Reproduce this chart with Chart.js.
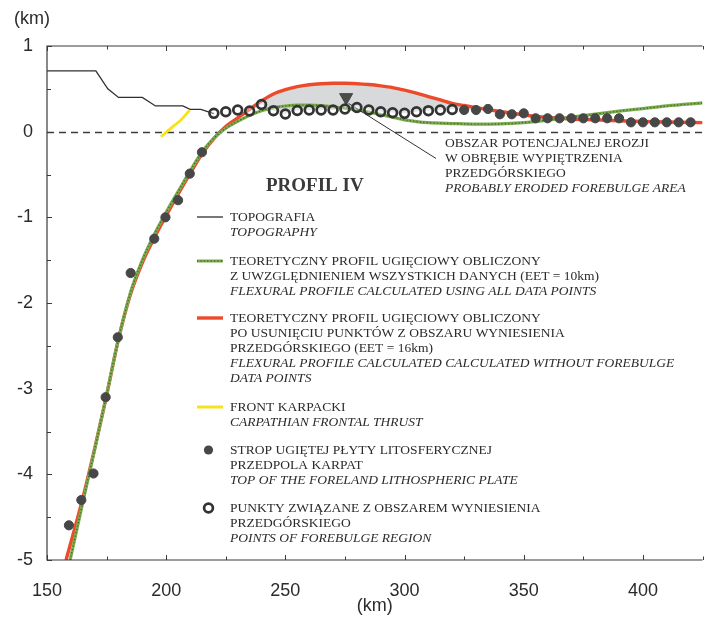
<!DOCTYPE html>
<html><head><meta charset="utf-8">
<script src="https://cdn.jsdelivr.net/npm/chart.js@4.4.1/dist/chart.umd.min.js"></script>
<style>html,body{margin:0;padding:0;background:#fff;}#wrap{width:711px;height:617px;}</style>
</head><body><div id="wrap"><canvas id="c" width="711" height="617"></canvas></div>
<script>
// ---------------- DATA ----------------
const xTicks = [150, 200, 250, 300, 350, 400];
const yTicks = [-5, -4, -3, -2, -1, 0, 1];

const topoX = [150, 170.5, 175.5, 180, 190, 195.5, 207, 210, 214.5, 220];
const topoY = [0.71, 0.71, 0.5, 0.4, 0.4, 0.3, 0.3, 0.26, 0.26, 0.21];

const frontX = [197.8, 202.3, 206.2, 209.9];
const frontY = [-0.06, 0.047, 0.136, 0.253];

const eet16X = [158, 165, 170, 175, 180, 185, 190, 195, 200, 205, 210, 215, 220, 225, 230, 235, 240, 245, 250, 255, 260, 265, 270, 275, 280, 285, 290, 295, 300, 305, 310, 315, 320, 325, 330, 340, 350, 360, 370, 380, 390, 400, 410, 425];
const eet16Y = [-5.0, -4.28, -3.7, -3.08, -2.42, -1.9, -1.53, -1.24, -0.98, -0.73, -0.49, -0.26, -0.08, 0.06, 0.16, 0.26, 0.36, 0.44, 0.49, 0.525, 0.548, 0.56, 0.565, 0.565, 0.56, 0.55, 0.535, 0.515, 0.485, 0.45, 0.41, 0.37, 0.33, 0.305, 0.28, 0.235, 0.195, 0.165, 0.148, 0.138, 0.127, 0.118, 0.112, 0.105];

const eet10X = [159.7, 165, 170, 175, 180, 185, 190, 195, 200, 205, 210, 215, 220, 225, 230, 235, 240, 245, 250, 255, 260, 265, 270, 275, 280, 285, 290, 295, 300, 305, 310, 320, 330, 340, 350, 360, 370, 380, 390, 400, 410, 425];
const eet10Y = [-5.0, -4.33, -3.71, -3.07, -2.42, -1.88, -1.5, -1.2, -0.94, -0.7, -0.46, -0.24, -0.075, 0.04, 0.12, 0.19, 0.245, 0.28, 0.3, 0.31, 0.31, 0.305, 0.29, 0.275, 0.255, 0.23, 0.2, 0.17, 0.138, 0.118, 0.105, 0.095, 0.088, 0.09, 0.105, 0.135, 0.17, 0.205, 0.24, 0.27, 0.3, 0.335];

const plateX = [159.2, 164.4, 169.5, 174.6, 179.7, 185.1, 195, 199.7, 205, 209.9, 215, 325, 330, 335, 340, 345, 350, 355, 360, 365, 370, 375, 380, 385, 390, 395, 400, 405, 410, 415, 420];
const plateY = [-4.595, -4.3, -3.99, -3.1, -2.4, -1.65, -1.25, -1.0, -0.8, -0.49, -0.24, 0.253, 0.253, 0.265, 0.203, 0.203, 0.214, 0.156, 0.156, 0.156, 0.156, 0.156, 0.156, 0.156, 0.156, 0.109, 0.109, 0.109, 0.109, 0.109, 0.109];

const bulgeX = [220, 225, 230, 235, 240, 245, 250, 255, 260, 265, 270, 275, 280, 285, 290, 295, 300, 305, 310, 315, 320];
const bulgeY = [0.214, 0.233, 0.253, 0.241, 0.317, 0.245, 0.206, 0.247, 0.253, 0.253, 0.253, 0.265, 0.282, 0.253, 0.233, 0.221, 0.214, 0.233, 0.245, 0.253, 0.259];

const markX = [275.5];
const markY = [0.4];
const leaderX = [276.5, 313.2];
const leaderY = [0.33, -0.313];

const annotationLines = [
  ['OBSZAR POTENCJALNEJ EROZJI', false],
  ['W OBRĘBIE WYPIĘTRZENIA', false],
  ['PRZEDGÓRSKIEGO', false],
  ['PROBABLY ERODED FOREBULGE AREA', true]
];

const legendGroups = [
  {sym: 'topo', lines: [['TOPOGRAFIA', false], ['TOPOGRAPHY', true]]},
  {sym: 'green', lines: [['TEORETYCZNY PROFIL UGIĘCIOWY OBLICZONY', false], ['Z UWZGLĘDNIENIEM WSZYSTKICH DANYCH (EET = 10km)', false], ['FLEXURAL PROFILE CALCULATED USING ALL DATA POINTS', true]]},
  {sym: 'red', lines: [['TEORETYCZNY PROFIL UGIĘCIOWY OBLICZONY', false], ['PO USUNIĘCIU PUNKTÓW Z OBSZARU WYNIESIENIA', false], ['PRZEDGÓRSKIEGO (EET = 16km)', false], ['FLEXURAL PROFILE CALCULATED CALCULATED WITHOUT FOREBULGE', true], ['DATA POINTS', true]]},
  {sym: 'yellow', lines: [['FRONT KARPACKI', false], ['CARPATHIAN FRONTAL THRUST', true]]},
  {sym: 'dot', lines: [['STROP UGIĘTEJ PŁYTY LITOSFERYCZNEJ', false], ['PRZEDPOLA KARPAT', false], ['TOP OF THE FORELAND LITHOSPHERIC PLATE', true]]},
  {sym: 'circle', lines: [['PUNKTY ZWIĄZANE Z OBSZAREM WYNIESIENIA', false], ['PRZEDGÓRSKIEGO', false], ['POINTS OF FOREBULGE REGION', true]]}
];

// ---------------- STYLE ----------------
const C = {
  axis: '#3a3a3a', text: '#2b2b2b', topo: '#2f2f2f', red: '#ec4a2b', green: '#7eab4f', greenDark: '#3c6a2b',
  yellow: '#f7e21b', dot: '#474747', ring: '#333333', fill: '#d7d9db'
};
const SERIF = '"Liberation Serif", "Times New Roman", serif';
const SANS = '"Liberation Sans", Arial, sans-serif';

const pts = (xs, ys) => xs.map((x, i) => ({x: x, y: ys[i]}));
const allPts = pts(bulgeX, bulgeY).concat(pts(plateX, plateY));
const erosionBase = allPts.filter(p => p.x >= 220 && p.x <= 330).sort((a, b) => a.x - b.x);

const lineDs = (label, data, color, width, extra) => Object.assign({
  label, data, borderColor: color, borderWidth: width, pointRadius: 0, pointHoverRadius: 0,
  fill: false, tension: 0, showLine: true
}, extra || {});

const datasets = [
  {label: 'bulge', data: pts(bulgeX, bulgeY), showLine: false, pointRadius: 4.4, pointBorderWidth: 2.7,
   pointBorderColor: C.ring, pointBackgroundColor: 'rgba(255,255,255,0.35)', borderColor: C.ring},
  {label: 'plate', data: pts(plateX, plateY), showLine: false, pointRadius: 4.6, pointBorderWidth: 1,
   pointBorderColor: C.dot, pointBackgroundColor: C.dot, borderColor: C.dot},
  {label: 'mark', data: pts(markX, markY), showLine: false, pointStyle: 'triangle', rotation: 180,
   pointRadius: 7.5, pointBorderWidth: 1, pointBorderColor: '#444', pointBackgroundColor: '#4c4c4c'},
  lineDs('leader', pts(leaderX, leaderY), '#333', 1),
  lineDs('eet10dots', pts(eet10X, eet10Y), C.greenDark, 1.4, {cubicInterpolationMode: 'monotone', borderDash: [1.2, 2.2]}),
  lineDs('eet10', pts(eet10X, eet10Y), C.green, 3.2, {cubicInterpolationMode: 'monotone'}),
  lineDs('eet16', pts(eet16X, eet16Y), C.red, 3.4, {cubicInterpolationMode: 'monotone',
    fill: {target: 9, above: C.fill, below: 'rgba(0,0,0,0)'}}),
  lineDs('front', pts(frontX, frontY), C.yellow, 2.8, {cubicInterpolationMode: 'monotone'}),
  lineDs('topo', pts(topoX, topoY), C.topo, 1.3),
  lineDs('erosionBase', erosionBase, 'rgba(0,0,0,0)', 0)
];

// ---------------- PLUGINS ----------------
const framePlugin = {
  id: 'frame',
  beforeDatasetsDraw(chart) {
    const {ctx, chartArea: a, scales: {y}} = chart;
    ctx.save();
    ctx.strokeStyle = '#3c3c3c'; ctx.lineWidth = 1.3; ctx.setLineDash([7, 5]);
    const y0 = Math.round(y.getPixelForValue(0)) + 0.5;
    ctx.beginPath(); ctx.moveTo(a.left, y0); ctx.lineTo(a.right, y0); ctx.stroke();
    ctx.restore();
  },
  afterDatasetsDraw(chart) {
    const {ctx, chartArea: a, scales: {x, y}} = chart;
    ctx.save();
    ctx.strokeStyle = C.axis; ctx.lineWidth = 1.2; ctx.setLineDash([]);
    ctx.beginPath();
    ctx.moveTo(a.right, a.top); ctx.lineTo(a.left, a.top); ctx.lineTo(a.left, a.bottom); ctx.lineTo(a.right, a.bottom);
    ctx.stroke();
    ctx.lineWidth = 1;
    ctx.beginPath();
    for (let v = x.min; v <= x.max + 1e-9; v += 25) {
      const px = Math.round(x.getPixelForValue(v)) + 0.5;
      const len = (v % 50 === 0) ? 5 : 3.5;
      ctx.moveTo(px, a.bottom); ctx.lineTo(px, a.bottom - len);
      ctx.moveTo(px, a.top); ctx.lineTo(px, a.top + len);
    }
    for (let v = y.min; v <= y.max + 1e-9; v += 0.5) {
      const py = Math.round(y.getPixelForValue(v)) + 0.5;
      const len = (Math.abs(v % 1) < 1e-9) ? 5 : 4;
      ctx.moveTo(a.left, py); ctx.lineTo(a.left + len, py);
    }
    ctx.stroke();
    ctx.restore();
  },
  afterDraw(chart) {
    const {ctx} = chart;
    ctx.save();
    ctx.fillStyle = C.text; ctx.font = '18px ' + SANS; ctx.textAlign = 'center'; ctx.textBaseline = 'middle';
    ctx.fillText('(km)', 32, 19);
    ctx.textAlign = 'left';
    ctx.font = 'bold 19px ' + SERIF; ctx.fillStyle = '#3a3a3a';
    ctx.fillText('PROFIL IV', 266, 186);
    annotationLines.forEach((l, i) => {
      ctx.font = (l[1] ? 'italic ' : '') + '13.5px ' + SERIF; ctx.fillStyle = C.text;
      ctx.fillText(l[0], 445, 143 + i * 15);
    });
    const starts = [217, 261, 318, 407, 450, 508];
    legendGroups.forEach((g, gi) => {
      const y0 = starts[gi];
      g.lines.forEach((l, i) => {
        ctx.font = (l[1] ? 'italic ' : '') + '13.5px ' + SERIF; ctx.fillStyle = C.text;
        ctx.fillText(l[0], 230, y0 + i * 15);
      });
      ctx.save();
      ctx.setLineDash([]);
      const sx0 = 197, sx1 = 223, cx = 208.5;
      if (g.sym === 'topo') { ctx.strokeStyle = C.topo; ctx.lineWidth = 1.3; ctx.beginPath(); ctx.moveTo(sx0, y0); ctx.lineTo(sx1, y0); ctx.stroke(); }
      if (g.sym === 'green') {
        ctx.strokeStyle = C.green; ctx.lineWidth = 3; ctx.beginPath(); ctx.moveTo(sx0, y0); ctx.lineTo(sx1, y0); ctx.stroke();
        ctx.strokeStyle = C.greenDark; ctx.lineWidth = 1.4; ctx.setLineDash([1.2, 2.2]); ctx.beginPath(); ctx.moveTo(sx0, y0); ctx.lineTo(sx1, y0); ctx.stroke();
      }
      if (g.sym === 'red') { ctx.strokeStyle = C.red; ctx.lineWidth = 3.4; ctx.beginPath(); ctx.moveTo(sx0, y0); ctx.lineTo(sx1, y0); ctx.stroke(); }
      if (g.sym === 'yellow') { ctx.strokeStyle = C.yellow; ctx.lineWidth = 3; ctx.beginPath(); ctx.moveTo(sx0, y0); ctx.lineTo(sx1, y0); ctx.stroke(); }
      if (g.sym === 'dot') { ctx.fillStyle = C.dot; ctx.beginPath(); ctx.arc(cx, y0, 4.6, 0, Math.PI * 2); ctx.fill(); }
      if (g.sym === 'circle') { ctx.strokeStyle = C.ring; ctx.lineWidth = 2.7; ctx.beginPath(); ctx.arc(cx, y0, 4.4, 0, Math.PI * 2); ctx.stroke(); }
      ctx.restore();
    });
    ctx.restore();
  }
};

Chart.defaults.font.family = SANS;

new Chart(document.getElementById('c').getContext('2d'), {
  type: 'line',
  data: {datasets},
  options: {
    responsive: false, animation: false, devicePixelRatio: 1,
    layout: {padding: {top: 46, left: 0, right: 0, bottom: 0}},
    plugins: {
      legend: {display: false}, tooltip: {enabled: false},
      filler: {propagate: false, drawTime: 'beforeDatasetsDraw'}
    },
    events: [],
    scales: {
      x: {
        type: 'linear', min: 150, max: 425,
        afterFit(s) { s.height = 57; },
        afterBuildTicks(s) { s.ticks = xTicks.map(v => ({value: v})); },
        grid: {display: false, drawTicks: false}, border: {display: false},
        ticks: {font: {size: 18, family: SANS}, color: C.text, padding: 20, maxRotation: 0, autoSkip: false},
        title: {display: true, text: '(km)', font: {size: 18, family: SANS}, color: C.text, padding: 0}
      },
      y: {
        type: 'linear', min: -5, max: 1,
        afterFit(s) { s.width = 47; },
        afterBuildTicks(s) { s.ticks = yTicks.map(v => ({value: v})); },
        grid: {display: false, drawTicks: false}, border: {display: false},
        ticks: {font: {size: 18, family: SANS}, color: C.text, padding: 14}
      }
    }
  },
  plugins: [framePlugin]
});
</script></body></html>
